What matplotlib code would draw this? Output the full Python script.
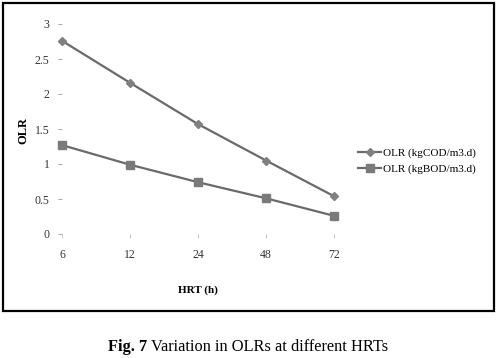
import matplotlib.pyplot as plt
from matplotlib.lines import Line2D
from matplotlib.patches import Rectangle

hrt_labels = ['6', '12', '24', '48', '72']
olr_cod = [2.76, 2.16, 1.57, 1.05, 0.54]
olr_bod = [1.27, 0.99, 0.74, 0.51, 0.26]

W, H = 498, 358
plt.rcParams['font.family'] = ['Liberation Serif', 'DejaVu Serif']

fig = plt.figure(figsize=(W / 100, H / 100), dpi=100)

# plot area in pixels (left, right, top, bottom)
x0, x1, y0, y1 = 62, 334, 24, 234
ax = fig.add_axes([x0 / W, 1 - y1 / H, (x1 - x0) / W, (y1 - y0) / H])

xs = range(len(hrt_labels))
line_col = '#6a6a6a'
ax.plot(xs, olr_cod, color=line_col, lw=1.6, marker='D', ms=4.5,
        mfc='#808080', mec='#808080', clip_on=False, label='OLR (kgCOD/m3.d)')
ax.plot(xs, olr_bod, color=line_col, lw=1.6, marker='s', ms=6.2,
        mfc='#7a7a7a', mec='#7a7a7a', clip_on=False, label='OLR (kgBOD/m3.d)')

ax.set_xlim(0, len(hrt_labels) - 1)
ax.set_ylim(0, 3)
ax.set_xticks(list(xs))
ax.set_xticklabels(hrt_labels)
ax.set_yticks([0, 0.5, 1, 1.5, 2, 2.5, 3])
ax.set_yticklabels(['0', '0.5', '1', '1.5', '2', '2.5', '3'])
for s in ax.spines.values():
    s.set_visible(False)
ax.tick_params(axis='y', length=3, width=0.6, color='#999999', labelsize=8.5,
               labelcolor='#333333', pad=6)
ax.tick_params(axis='x', length=3, width=0.6, color='#bbbbbb', labelsize=8.5,
               labelcolor='#333333', pad=8, direction='out')

fig.text(23 / W, 1 - 130 / H, 'OLR', rotation=90, fontsize=9, fontweight='bold',
         ha='center', va='center')
fig.text(198 / W, 1 - 290 / H, 'HRT (h)', fontsize=8, fontweight='bold',
         ha='center', va='center')

handles = [
    Line2D([], [], color=line_col, lw=1.6, marker='D', ms=4, mfc='#808080', mec='#808080'),
    Line2D([], [], color=line_col, lw=1.6, marker='s', ms=5.5, mfc='#7a7a7a', mec='#7a7a7a'),
]
fig.legend(handles, ['OLR (kgCOD/m3.d)', 'OLR (kgBOD/m3.d)'], loc='center left',
           bbox_to_anchor=(354 / W, 1 - 161 / H), frameon=False, fontsize=8,
           handlelength=2.0, handletextpad=0.2, labelspacing=0.55, borderaxespad=0)

# outer frame around the chart
fig.add_artist(Rectangle((3 / W, 1 - 311 / H), 491 / W, 308 / H, transform=fig.transFigure,
                         fill=False, ec='black', lw=1.6))

# caption with a bold lead-in
fig.canvas.draw()
r = fig.canvas.get_renderer()
cap_y = 1 - 347 / H
t1 = fig.text(108 / W, cap_y, 'Fig. 7', fontsize=11.8, fontweight='bold', va='center')
bb = t1.get_window_extent(renderer=r)
fig.text(bb.x1 / W + 4 / W, cap_y, 'Variation in OLRs at different HRTs', fontsize=11.8,
         va='center')

fig.savefig('out.png', dpi=100)
